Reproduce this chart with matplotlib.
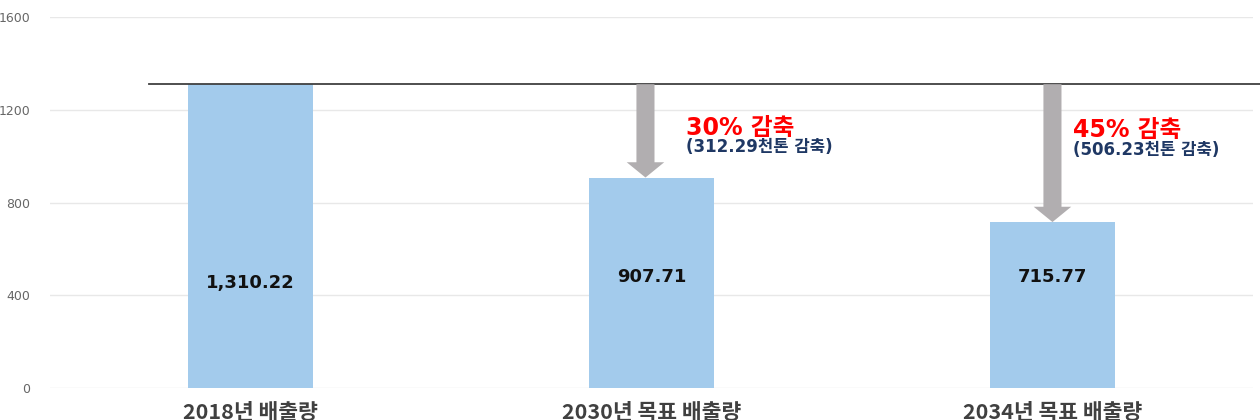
import numpy as np
import matplotlib.pyplot as plt

plt.rcParams['font.family'] = ['Noto Sans CJK KR', 'DejaVu Sans']
wide = ['DejaVu Sans', 'Noto Sans CJK KR']

categories = ['2018년 배출량', '2030년 목표 배출량', '2034년 목표 배출량']
emissions = [1310.22, 907.71, 715.77]
value_labels = ['1,310.22', '907.71', '715.77']
cut_pct = ['30% 감축', '45% 감축']
cut_amt = ['(312.29천톤 감축)', '(506.23천톤 감축)']
yticks = [0, 400, 800, 1200, 1600]

fig = plt.figure(figsize=(12.6, 4.2), dpi=100)
ax = fig.add_axes([0.0397, 0.0762, 0.9547, 0.8833])

x = np.arange(len(categories))
ax.bar(x, emissions, width=0.314, color='#a3cbec', zorder=2)

ax.set_xlim(-0.5, 2.5)
ax.set_ylim(0, 1600)
ax.set_yticks(yticks)
ax.set_yticklabels([str(t) for t in yticks], color='#666666', fontsize=9,
                   family=['DejaVu Sans'])
ax.set_xticks(x)
ax.set_xticklabels(categories, fontsize=15.5, fontweight='bold', color='#404040')
ax.tick_params(axis='x', length=0, pad=10)
ax.tick_params(axis='y', length=0, pad=14)
ax.grid(axis='y', color='#e8e8e8', linewidth=1, zorder=0)
for s in ax.spines.values():
    s.set_visible(False)

# baseline at 2018 level
ax.plot([-0.254, 2.52], [emissions[0], emissions[0]], color='#404040',
        linewidth=1.3, clip_on=False, zorder=3)

# value labels inside bars
for xi, lab, yv in zip(x, value_labels, [453, 479, 479]):
    ax.text(xi, yv, lab, ha='center', va='center', fontsize=13,
            fontweight='bold', color='#111111', zorder=4, family=wide)

# arrows and reduction texts
arrow_x = [0.985, 2.0]
text_pos = [(1.087, 1121, 1039), (2.052, 1113, 1026)]
for i, ax_x in enumerate(arrow_x):
    ax.annotate('', xy=(ax_x, emissions[i + 1]), xytext=(ax_x, emissions[0]),
                arrowprops=dict(width=13, headwidth=27, headlength=11,
                                color='#b1aeb0', shrink=0, linewidth=0),
                zorder=3)
    tx, ty1, ty2 = text_pos[i]
    ax.text(tx, ty1, cut_pct[i], ha='left', va='center', fontsize=17,
            fontweight='bold', color='#ff0000', family=wide)
    ax.text(tx, ty2, cut_amt[i], ha='left', va='center', fontsize=12,
            fontweight='bold', color='#1f3864', family=wide)

fig.savefig('out.png', dpi=100)
